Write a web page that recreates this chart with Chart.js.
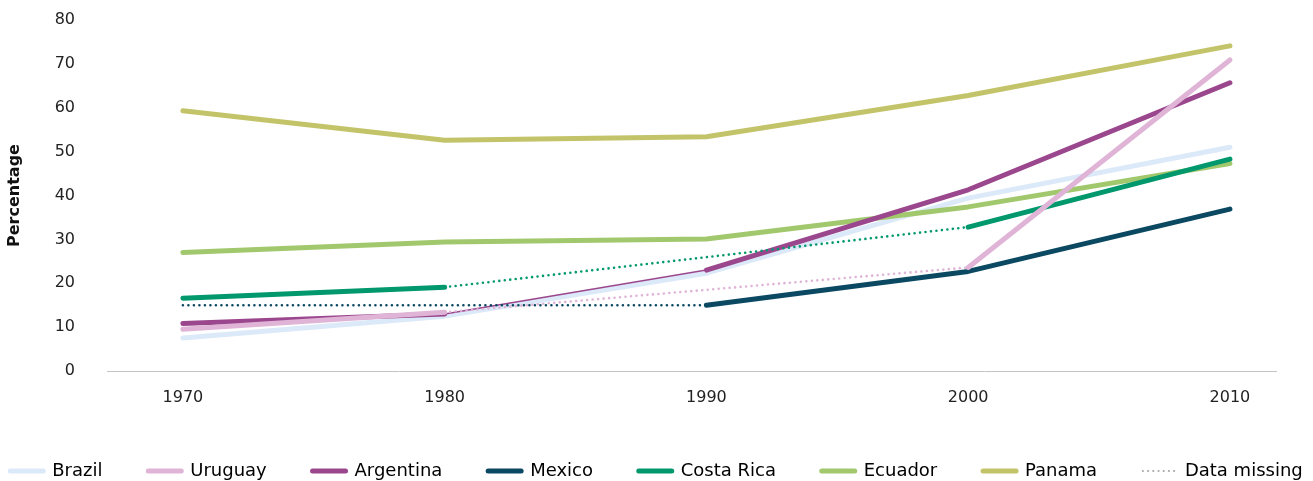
<!DOCTYPE html>
<html>
<head>
<meta charset="utf-8">
<title>Percentage by country, 1970-2010</title>
<script src="https://cdn.jsdelivr.net/npm/chart.js@4.4.1/dist/chart.umd.min.js"></script>
<style>
  body { margin: 0; background: #fff; }
  #chart { display: block; }
</style>
</head>
<body>
<canvas id="chart" width="1313" height="481"></canvas>
<script>
// values, null = no data for that census
const years = [1970, 1980, 1990, 2000, 2010];
const yTicks = [0, 10, 20, 30, 40, 50, 60, 70, 80];

const brazil    = [7.5, 12.5, 22.3, 39.4, 51.0];
const uruguay   = [9.5, 13.4, null, 23.6, 70.9];
const argentina = [10.8, 13.0, 23.0, 41.3, 65.7];
const mexico    = [null, null, 15.0, 22.7, 36.9];
const costaRica = [16.6, 19.1, null, 32.8, 48.3];
const ecuador   = [27.0, 29.4, 30.1, 37.4, 47.3];
const panama    = [59.3, 52.6, 53.4, 62.8, 74.1];

const names = ['Brazil', 'Uruguay', 'Argentina', 'Mexico', 'Costa Rica', 'Ecuador', 'Panama'];
const series = [brazil, uruguay, argentina, mexico, costaRica, ecuador, panama];
const missingLabel = 'Data missing';

const colors = ['#dce9f8', '#dfb4d6', '#9b478e', '#0b4862', '#00986c', '#a2c86e', '#c3c46a'];
// lower order = drawn on top
const drawOrder = [7, 1, 3, 4, 2, 5, 6];

Chart.defaults.font.family = '"DejaVu Sans", sans-serif';
Chart.defaults.color = '#222';

const toPoints = values => values.map((v, i) => ({ x: years[i], y: v }));

// dotted bridge over the gaps: joins the readings either side,
// a leading gap is carried back flat from the first reading
function missingLine(values) {
  const out = values.map(() => null);
  const first = values.findIndex(v => v !== null);
  values.forEach((v, i) => {
    if (v !== null) return;
    if (i < first) {
      out[i] = values[first];
      out[first] = values[first];
      return;
    }
    if (values[i - 1] !== null) out[i - 1] = values[i - 1];
    let j = i;
    while (j < values.length && values[j] === null) j++;
    if (j < values.length) out[j] = values[j];
  });
  return out;
}

const datasets = series.map((values, i) => ({
  label: names[i],
  data: toPoints(values),
  borderColor: colors[i],
  backgroundColor: colors[i],
  borderWidth: 5,
  borderCapStyle: 'round',
  borderJoinStyle: 'round',
  pointRadius: 0,
  tension: 0,
  spanGaps: false,
  order: drawOrder[i],
  // Argentina is only a hairline between 1980 and 1990
  segment: names[i] === 'Argentina'
    ? { borderWidth: ctx => (ctx.p0DataIndex === 1 ? 1.5 : undefined) }
    : undefined
}));

series.forEach((values, i) => {
  if (!values.includes(null)) return;
  datasets.push({
    label: names[i] + ' (missing)',
    data: toPoints(missingLine(values)),
    borderColor: colors[i],
    borderWidth: 2.6,
    borderDash: [0, 5.5],
    borderCapStyle: 'round',
    pointRadius: 0,
    spanGaps: true,
    order: 0
  });
});

const gap = ' '.repeat(8);

function legendItems() {
  const items = names.map((name, i) => ({
    text: name + gap,
    fillStyle: colors[i],
    strokeStyle: colors[i],
    lineWidth: 5,
    lineCap: 'round',
    pointStyle: 'line',
    hidden: false,
    datasetIndex: i
  }));
  items.push({
    text: missingLabel,
    fillStyle: '#a8a8a8',
    strokeStyle: '#a8a8a8',
    lineWidth: 2.2,
    lineCap: 'round',
    lineDash: [0, 5.2],
    pointStyle: 'line',
    hidden: false
  });
  return items;
}

new Chart(document.getElementById('chart'), {
  type: 'line',
  data: { datasets },
  options: {
    responsive: false,
    animation: false,
    layout: { padding: { top: 20, right: 0, bottom: 1, left: 0 } },
    plugins: {
      tooltip: { enabled: false },
      legend: {
        position: 'bottom',
        maxHeight: 18,
        labels: {
          usePointStyle: true,
          pointStyleWidth: 33,
          padding: 0,
          color: '#222',
          font: { size: 18 },
          generateLabels: legendItems
        }
      }
    },
    scales: {
      x: {
        type: 'linear',
        min: 1967.1,
        max: 2011.76,
        afterBuildTicks: scale => { scale.ticks = years.map(v => ({ value: v })); },
        afterFit: scale => { scale.height = 91; },
        grid: { drawOnChartArea: false, drawTicks: false },
        border: { color: '#c4c4c4', width: 1 },
        ticks: { padding: 17, font: { size: 16 }, callback: v => String(v) }
      },
      y: {
        min: 0,
        max: 80,
        afterBuildTicks: scale => { scale.ticks = yTicks.map(v => ({ value: v })); },
        afterFit: scale => {
          scale.width = 107;
          // tick padding would otherwise push the plot down
          scale.paddingTop = 10;
          scale.paddingBottom = 10;
        },
        grid: { display: false, drawTicks: false },
        border: { display: false },
        ticks: { padding: 32, font: { size: 16 } },
        title: {
          display: true,
          text: 'Percentage',
          color: '#111',
          font: { size: 16, weight: 'bold' },
          padding: { top: 5, bottom: 0 }
        }
      },
      // empty right-hand axis, only there to leave the gap after 2010
      yRight: {
        position: 'right',
        afterFit: scale => { scale.width = 37; },
        grid: { display: false, drawTicks: false },
        border: { display: false },
        ticks: { display: false }
      }
    }
  }
});
</script>
</body>
</html>
